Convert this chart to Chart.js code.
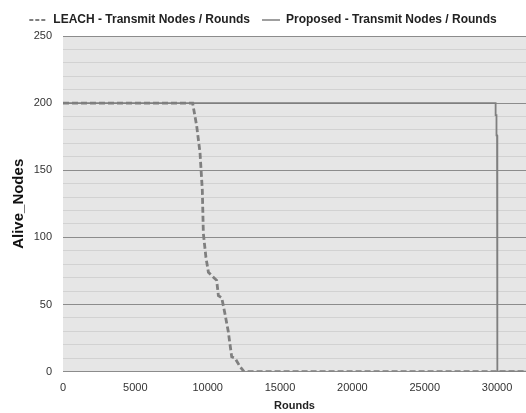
<!DOCTYPE html>
<html>
<head>
<meta charset="utf-8">
<script src="https://cdn.jsdelivr.net/npm/chart.js@4"></script>
<style>
html,body{margin:0;padding:0;background:#fff;}
#wrap{width:526px;height:413px;}
</style>
</head>
<body>
<div id="wrap"><canvas id="c" width="526" height="413"></canvas></div>
<script>
const leachRounds = [0, 8960, 9240, 9470, 9630, 9700, 9880, 10050, 10280, 10620, 10740, 10970, 11200, 11420, 11660, 11890, 12230, 12510, 32000];
const leachAlive  = [200, 200, 183, 163, 135, 103, 85, 74, 71.5, 68, 56.5, 55, 42.7, 30, 11, 10, 3.8, 0, 0];
const propRounds = [0, 29900, 29900, 29960, 29960, 30000, 30000, 30030, 30030, 32000];
const propAlive  = [200, 200, 191, 191, 176, 176, 100, 100, 0, 0];
const xTicks = [0, 5000, 10000, 15000, 20000, 25000, 30000];
const yTicks = [0, 50, 100, 150, 200, 250];
const seriesNames = ['LEACH - Transmit Nodes / Rounds', 'Proposed - Transmit Nodes / Rounds'];

const toPts = (xs, ys) => xs.map((x, i) => ({x: x, y: ys[i]}));

const bgPlugin = {
  id: 'bg',
  beforeDraw(chart) {
    const a = chart.chartArea, ctx = chart.ctx;
    ctx.save();
    ctx.fillStyle = '#e6e6e6';
    ctx.fillRect(a.left, a.top, a.right - a.left, a.bottom - a.top);
    ctx.restore();
  }
};

new Chart(document.getElementById('c'), {
  type: 'scatter',
  data: {
    datasets: [
      {
        label: seriesNames[0],
        data: toPts(leachRounds, leachAlive),
        showLine: true,
        borderColor: '#7f7f7f',
        backgroundColor: '#7f7f7f',
        borderWidth: 2.8,
        borderDash: [6, 3],
        pointRadius: 0,
        order: 1
      },
      {
        label: seriesNames[1],
        data: toPts(propRounds, propAlive),
        showLine: true,
        borderColor: '#7f7f7f',
        backgroundColor: '#7f7f7f',
        borderWidth: 1.8,
        pointRadius: 0,
        order: 2
      }
    ]
  },
  options: {
    responsive: false,
    animation: false,
    layout: {padding: {left: 0, right: 0, top: 2, bottom: 0}},
    plugins: {
      legend: {
        position: 'top',
        labels: {
          usePointStyle: true,
          pointStyle: 'line',
          pointStyleWidth: 18,
          boxWidth: 18,
          boxHeight: 2,
          color: '#222',
          padding: 12,
          font: {family: 'Liberation Sans', size: 12, weight: 'bold'},
          generateLabels(chart) {
            const items = Chart.defaults.plugins.legend.labels.generateLabels(chart);
            items.forEach(it => {
              const ds = chart.data.datasets[it.datasetIndex];
              it.lineDash = ds.borderDash ? [4, 2] : [];
              it.lineWidth = ds.borderDash ? 2.2 : 1.5;
              it.strokeStyle = ds.borderColor;
            });
            return items;
          }
        }
      },
      tooltip: {enabled: false}
    },
    scales: {
      x: {
        type: 'linear',
        min: 0,
        max: 32000,
        afterBuildTicks(s) { s.ticks = xTicks.map(v => ({value: v})); },
        ticks: {color: '#333', font: {family: 'Liberation Sans', size: 11}, maxRotation: 0, autoSkip: false, padding: 2, callback: v => String(v)},
        grid: {display: false},
        border: {display: false},
        title: {display: true, text: 'Rounds', color: '#222', font: {family: 'Liberation Sans', size: 11, weight: 'bold'}, padding: {top: 3, bottom: 0}}
      },
      y: {
        min: 0,
        max: 250,
        afterBuildTicks(s) {
          const t = [];
          for (let v = 0; v <= 250; v += 10) t.push({value: v});
          s.ticks = t;
        },
        afterFit(s) { s.width = 63; },
        ticks: {
          color: '#333',
          font: {family: 'Liberation Sans', size: 11},
          padding: 11,
          autoSkip: false,
          callback: v => (yTicks.includes(v) ? String(v) : '')
        },
        grid: {
          color: ctx => (ctx.tick && ctx.tick.value % 50 === 0 ? '#8c8c8c' : '#d2d2d2'),
          lineWidth: 1,
          drawTicks: false
        },
        border: {display: false},
        title: {display: true, text: 'Alive_Nodes', color: '#111', font: {family: 'Liberation Sans', size: 15, weight: 'bold'}, padding: {top: 10, bottom: 6}}
      }
    }
  },
  plugins: [bgPlugin]
});
</script>
</body>
</html>
